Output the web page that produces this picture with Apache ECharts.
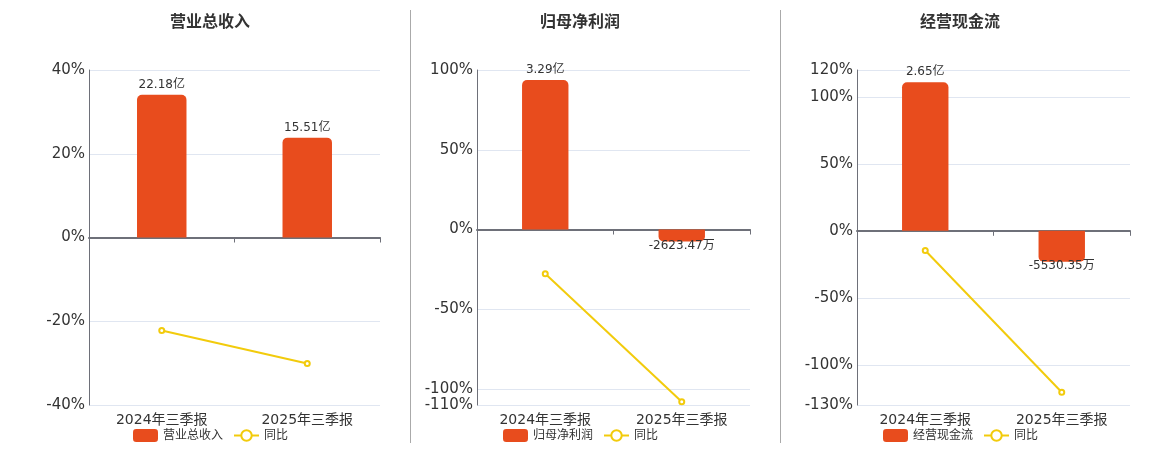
<!DOCTYPE html>
<html>
<head>
<meta charset="utf-8">
<script src="https://cdn.jsdelivr.net/npm/echarts@6/dist/echarts.min.js"></script>
<style>
    html, body { margin: 0; padding: 0; background: #fff; }
    #main { width: 1160px; height: 450px; }
</style>
</head>
<body>
<div id="main"></div>
<script>
    // 数据（金额单位：亿元，同比单位：%）
    var categories = ['2024年三季报', '2025年三季报'];
    var revenue = [22.18, 15.51];
    var revenueYoy = [-22.2, -30.1];
    var profit = [3.29, -0.262347];
    var profitYoy = [-27.7, -108.0];
    var cashFlow = [2.65, -0.553035];
    var cashFlowYoy = [-14.7, -120.5];

    var barColor = '#E84C1D';
    var lineColor = '#F2CB0C';

    // 每个面板的布局和坐标轴范围
    var panels = [
        { name: '营业总收入', bars: revenue, yoy: revenueYoy, center: 210, left: 89, right: 780, pMin: -40, pMax: 40, bMin: -26.02, bMax: 26.02 },
        { name: '归母净利润', bars: profit, yoy: profitYoy, center: 580, left: 477, right: 410, pMin: -110, pMax: 100, bMin: -3.862, bMax: 3.511 },
        { name: '经营现金流', bars: cashFlow, yoy: cashFlowYoy, center: 960, left: 857, right: 30, pMin: -130, pMax: 120, bMin: -3.109, bMax: 2.870 }
    ];

    function fmtMoney(v) {
        if (Math.abs(v) >= 1) return v.toFixed(2) + '亿';
        return (v * 10000).toFixed(2) + '万';
    }

    var option = {
        animation: false,
        textStyle: { fontFamily: 'DejaVu Sans, Noto Sans CJK SC, sans-serif' },
        title: [], legend: [], grid: [], xAxis: [], yAxis: [], series: [],
        graphic: [
            { type: 'line', shape: { x1: 410.5, y1: 10, x2: 410.5, y2: 443 }, style: { stroke: '#aaaaaa', lineWidth: 1 } },
            { type: 'line', shape: { x1: 780.5, y1: 10, x2: 780.5, y2: 443 }, style: { stroke: '#aaaaaa', lineWidth: 1 } }
        ]
    };

    panels.forEach(function (p, i) {
        option.title.push({
            text: p.name,
            left: p.center,
            top: 15,
            padding: 0,
            textAlign: 'center',
            textStyle: { fontSize: 16, fontWeight: 'bold', color: '#333' }
        });
        option.legend.push({
            left: p.center - 77,
            top: 429,
            padding: 0,
            itemWidth: 25,
            itemHeight: 13,
            itemGap: 10,
            textStyle: { fontSize: 12, color: '#333' },
            data: [p.name, '同比' + i],
            formatter: function (n) { return n.indexOf('同比') === 0 ? '同比' : n; }
        });
        option.grid.push({ left: p.left, right: p.right, top: 70, bottom: 45 });
        option.xAxis.push({
            type: 'category',
            gridIndex: i,
            data: categories,
            axisLine: { lineStyle: { color: '#6E7079', width: 2 } },
            axisTick: { show: true, length: 5, lineStyle: { color: '#6E7079' } },
            axisLabel: { fontSize: 14, color: '#333', margin: 8 }
        });
        option.yAxis.push({
            type: 'value',
            gridIndex: i,
            min: p.pMin,
            max: p.pMax,
            axisLine: { show: true, lineStyle: { color: '#6E7079', width: 1 } },
            axisTick: { show: false },
            axisLabel: { fontSize: 15, color: '#333', margin: 4, padding: [4, 0, 0, 0], formatter: '{value}%' },
            splitLine: { lineStyle: { color: '#E0E6F1' } }
        });
        option.yAxis.push({
            type: 'value',
            gridIndex: i,
            show: false,
            min: p.bMin,
            max: p.bMax,
            splitLine: { show: false }
        });
        option.series.push({
            name: p.name,
            type: 'bar',
            xAxisIndex: i,
            yAxisIndex: i * 2 + 1,
            barWidth: '34%',
            itemStyle: { color: barColor },
            data: p.bars.map(function (v) {
                return {
                    value: v,
                    itemStyle: { borderRadius: v >= 0 ? [5, 5, 0, 0] : [0, 0, 5, 5] },
                    label: {
                        show: true,
                        position: v >= 0 ? 'top' : 'bottom',
                        distance: v >= 0 ? 4 : -2,
                        fontSize: 12,
                        color: '#333',
                        formatter: function (d) { return fmtMoney(d.value); }
                    }
                };
            })
        });
        option.series.push({
            name: '同比' + i,
            type: 'line',
            xAxisIndex: i,
            yAxisIndex: i * 2,
            symbol: 'emptyCircle',
            symbolSize: 5,
            lineStyle: { color: lineColor, width: 2 },
            itemStyle: { color: lineColor, borderColor: lineColor, borderWidth: 1.5 },
            data: p.yoy
        });
    });

    var myChart = echarts.init(document.getElementById('main'));
    myChart.setOption(option);
</script>
</body>
</html>
